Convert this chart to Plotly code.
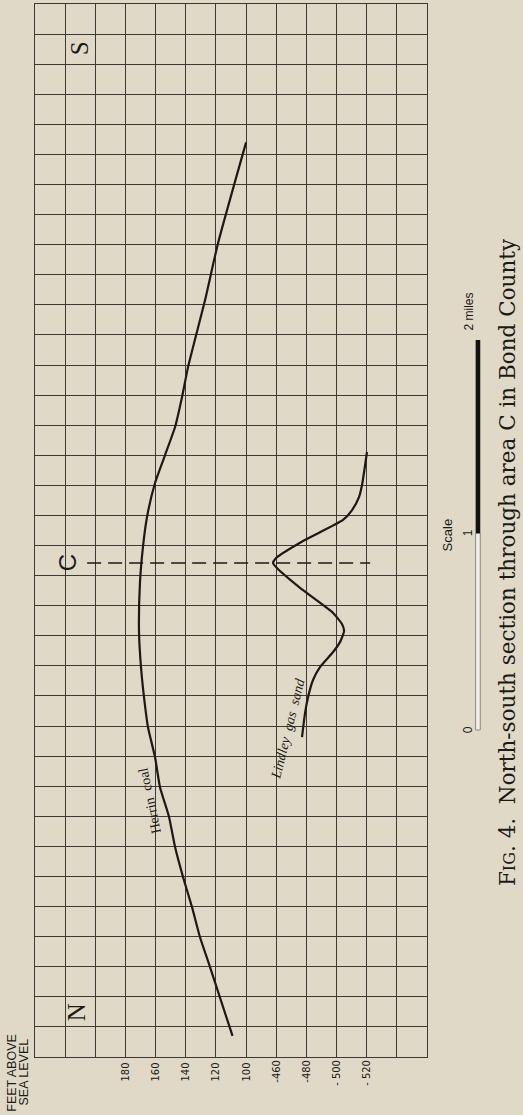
import plotly.graph_objects as go

# ---- data (distance in grid squares from the N end, elevation in feet) ----
HERRIN_DIST = [30.4, 27.05, 25.16, 22.93, 21.93, 20.94, 20.0, 19.08, 17.95, 16.95, 15.75, 14.09,
               12.96, 11.96, 10.97, 9.97, 8.97, 7.98, 6.98, 5.98, 4.99, 3.99, 2.99, 0.70]
HERRIN_ELEV = [100, 118.6, 127.2, 138.5, 142.5, 147.1, 153.8, 160.4, 165.7, 168.4, 170.4, 171,
               169.7, 167.7, 165.1, 160.4, 157.1, 151.1, 147.1, 141.8, 135.9, 130.6, 123.9, 109]

LINDLEY_DIST = [20.11, 19.01, 18.61, 18.18, 17.85, 17.15, 16.58, 16.42, 16.25, 15.59, 14.76,
                14.39, 14.16, 13.79, 13.46, 12.96, 12.53, 11.96, 11.43, 10.63]
LINDLEY_ELEV = [-520.2, -516.9, -514.9, -510.3, -504.3, -477.8, -459.8, -457.9, -460.5, -475.8,
                -497.7, -503.6, -505.0, -502.3, -497.7, -489.0, -484.4, -481.1, -479.1, -477.1]

HERRIN_TICKS = [180, 160, 140, 120, 100]
LINDLEY_TICKS = [-460, -480, -500, -520]
LINDLEY_TICKTEXT = ["-460", "-480", "- 500", "- 520"]

C_POS = 16.42            # position of area C along the section
SCALE_MILES = [0, 1, 2]
SCALE_POS = [10.87, 17.41, 23.83]

CAPTION = ("F<span style='font-size:16px'>IG</span>. 4.  North-south section "
           "through area C in Bond County")

BG = "#e0d9c7"
INK = "#1c1916"
GRID = "#3d3a35"

fig = go.Figure()
fig.add_trace(go.Scatter(x=HERRIN_ELEV, y=HERRIN_DIST, xaxis="x", yaxis="y", mode="lines",
                         line=dict(color=INK, width=2.2, shape="spline", smoothing=0.5),
                         name="Herrin coal", showlegend=False, hoverinfo="skip"))
fig.add_trace(go.Scatter(x=LINDLEY_ELEV, y=LINDLEY_DIST, xaxis="x2", yaxis="y", mode="lines",
                         line=dict(color=INK, width=2.2, shape="spline", smoothing=0.5),
                         name="Lindley gas sand", showlegend=False, hoverinfo="skip"))

herrin_grid = list(range(240, -21, -20))
herrin_text = [str(v) if v in HERRIN_TICKS else "" for v in herrin_grid]

tickfont = dict(family="Liberation Sans Narrow, DejaVu Sans Condensed, Liberation Sans, Arial",
                size=11, color=INK)

fig.update_layout(
    width=523, height=1115,
    margin=dict(l=35, r=96, t=4, b=58, autoexpand=False),
    paper_bgcolor=BG, plot_bgcolor=BG,
    xaxis=dict(range=[240, -20], tickmode="array", tickvals=herrin_grid, ticktext=herrin_text,
               showgrid=True, gridcolor=GRID, gridwidth=1, zeroline=False, automargin=False,
               showline=True, mirror=True, linecolor=GRID, linewidth=1.3,
               tickangle=-90, tickfont=tickfont, ticks=""),
    xaxis2=dict(range=[-300, -560], overlaying="x", side="bottom", anchor="y",
                tickmode="array", tickvals=LINDLEY_TICKS, ticktext=LINDLEY_TICKTEXT,
                showgrid=False, zeroline=False, showline=False, automargin=False,
                tickangle=-90, tickfont=tickfont, ticks=""),
    yaxis=dict(range=[0, 35], tick0=0, dtick=1, showticklabels=False, ticks="",
               showgrid=True, gridcolor=GRID, gridwidth=1, zeroline=False, automargin=False,
               showline=True, mirror=True, linecolor=GRID, linewidth=1.3),
    showlegend=False,
)

# dashed line at C
fig.add_shape(type="line", xref="paper", yref="y", x0=0.133, x1=0.855, y0=C_POS, y1=C_POS,
              line=dict(color=INK, width=1.6, dash="14px,7px"))

# scale bar
half = 2.3 / 392
fig.add_shape(type="rect", xref="paper", yref="y", x0=1.130 - half, x1=1.130 + half,
              y0=SCALE_POS[0], y1=SCALE_POS[1], fillcolor="#f3f0e8",
              line=dict(color="#8a8680", width=1))
fig.add_shape(type="rect", xref="paper", yref="y", x0=1.130 - half, x1=1.130 + half,
              y0=SCALE_POS[1], y1=SCALE_POS[2], fillcolor="#141210", line=dict(width=0))

sans = "Liberation Sans, Arial, sans-serif"
serif = "Liberation Serif, DejaVu Serif, serif"
wserif = "DejaVu Serif, Liberation Serif, serif"


def label(text, x, y, xref="paper", yref="y", angle=-90, family=sans, size=12, **kw):
    return dict(text=text, xref=xref, yref=yref, x=x, y=y, textangle=angle,
                xanchor="center", yanchor="middle", showarrow=False,
                font=dict(family=family, size=size, color=INK), **kw)


ann = [
    label("C", 0.085, C_POS, size=24),
    label("N", 0.108, 1.5, family=serif, size=25),
    label("S", 0.112, 33.53, family=serif, size=25),
    label("Herrin  coal", 163.6, 8.51, xref="x", angle=-102, family=serif, size=14),
    label("<i>Lindley  gas  sand</i>", -467.8, 10.92, xref="x2", angle=-76, family=serif,
          size=14),
    label("FEET ABOVE", -0.058, -0.0147, yref="paper", size=12.5),
    label("SEA LEVEL", -0.028, -0.0147, yref="paper", size=12.5),
    label("Scale", 1.052, 17.35, size=13),
    label(str(SCALE_MILES[0]), 1.105, SCALE_POS[0]),
    label(str(SCALE_MILES[1]), 1.105, SCALE_POS[1]),
    label(f"{SCALE_MILES[2]} miles", 1.108, 24.79),
    label(CAPTION, 1.204, 16.45, family=wserif, size=21.5),
]
fig.update_layout(annotations=ann)

fig.write_html(
    "out.html",
    config={"displayModeBar": False},
    post_script=("document.body.style.margin='0';"
                 "document.body.style.background='" + BG + "';"
                 "document.body.style.overflow='hidden';"),
)
